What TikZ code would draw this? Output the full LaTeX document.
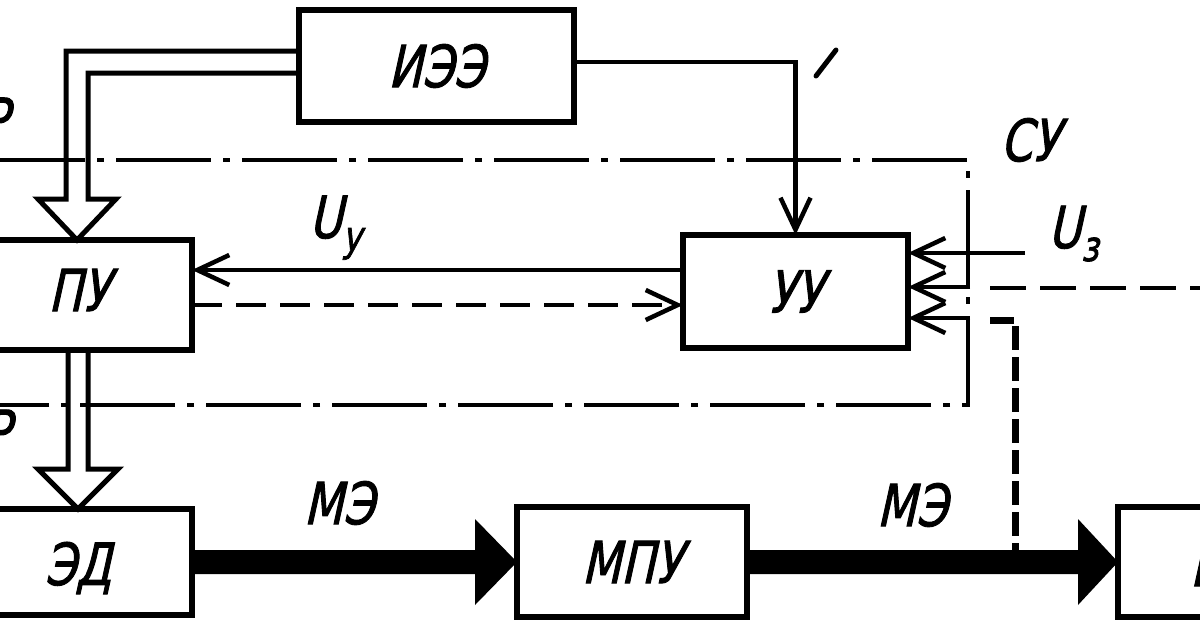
\documentclass[tikz,border=0pt]{standalone}
\usepackage{fontspec}
\newfontfamily\lab{DejaVu Sans}[FakeSlant=0.22,FakeStretch=0.78,FakeBold=1.6]
\usetikzlibrary{arrows.meta,calc}
\tikzset{
  box/.style={draw, line width=5.5pt, inner sep=0pt, outer sep=0pt, font=\lab\fontsize{58}{58}\selectfont},
  lbl/.style={inner sep=0pt, outer sep=0pt, font=\lab\fontsize{58}{58}\selectfont},
  sig/.style={line width=4.5pt, -{Straight Barb[length=32pt,width=30pt]}},
  sigdash/.style={sig, dash pattern=on 30pt off 14pt},
  hollow/.style={line width=5pt, line join=miter},
  power/.style={fill=black},
  border/.style={line width=4.5pt, dash pattern=on 95pt off 12pt on 7pt off 12pt},
  fb/.style={line width=7pt, dash pattern=on 24pt off 7pt},
  longdash/.style={line width=4.5pt, dash pattern=on 36pt off 14pt},
}
\newcommand{\subs}[1]{{\fontsize{42}{42}\selectfont\raisebox{-13pt}{#1}}}
\begin{document}
\begin{tikzpicture}[x=1pt,y=-1pt]
\useasboundingbox (0,0) rectangle (1200,630);
\fill[white] (0,0) rectangle (1200,630);
\clip (0,0) rectangle (1200,630);

% boxes
\node[box, minimum width=275pt, minimum height=112pt] (iee) at (436.5,66) {ИЭЭ};
\node[box, minimum width=252pt, minimum height=110pt] (pu) at (66,295) {};
\node[box, minimum width=225pt, minimum height=113pt] (uu) at (795.5,291.5) {УУ};
\node[box, minimum width=252pt, minimum height=106pt] (ed) at (66,562) {};
\node[box, minimum width=230pt, minimum height=110pt] (mpu) at (632,562) {МПУ};
\node[box, minimum width=152pt, minimum height=110pt] (rb) at (1194,562) {};

% labels
\node[lbl] (lpu) at (79,290) {ПУ};
\node[lbl] (led) at (78,568) {ЭД};
\node[lbl] (lrb) at (1207,565) {И};
\node[lbl] (lsu) at (1030,140) {СУ};
\node[lbl, anchor=base west] (luy) at (309,238) {U\subs{у}};
\node[lbl, anchor=base west] (luz) at (1048,248) {U\subs{з}};
\node[lbl] (lme1) at (339,503) {МЭ};
\node[lbl] (lme2) at (912,505) {МЭ};
\node[lbl, anchor=base east] (fr1) at (8,140) {Р};
\node[lbl, anchor=base east] (fr2) at (10,452) {Р};

% system boundary (dash-dot)
\coordinate (bTL) at (-10,160);
\coordinate (bTR) at (968,160);
\coordinate (bBR) at (968,405);
\coordinate (bBL) at (-10,405);
\draw[border] (bTL) -- (bTR) -- (bBR) -- (bBL);

% hollow arrow IEE -> PU
\coordinate (t1) at ([xshift=11pt]pu.north);
\draw[hollow] ([yshift=15pt]iee.west) -| ($(t1)+(-11,-41)$) -- ($(t1)+(-39,-41)$) -- (t1)
  -- ($(t1)+(39,-41)$) -- ($(t1)+(11,-41)$) |- ([yshift=-7pt]iee.west);

% hollow arrow PU -> ED
\coordinate (t2) at ([xshift=12pt]ed.north);
\coordinate (s2l) at ($(t2)+(-10,-40)$);
\coordinate (s2r) at ($(t2)+(10,-40)$);
\draw[hollow] (s2l |- pu.south) -- (s2l) -- ($(t2)+(-40,-40)$) -- (t2)
  -- ($(t2)+(40,-40)$) -- (s2r) -- (s2r |- pu.south);

% IEE -> UU
\draw[sig] ([yshift=4pt]iee.east) -| (uu.north);
\draw[line width=5pt, line cap=round] (816,76) -- (836,50);

% UU <-> PU
\coordinate (yU) at (0,270);
\coordinate (yD) at (0,305);
\draw[sig] (uu.west |- yU) -- (pu.east |- yU);
\draw[sigdash] (pu.east |- yD) -- (uu.west |- yD);

% inputs to UU
\coordinate (uz) at (1025,253);
\coordinate (in2) at (970,287);
\coordinate (in3) at (970,318);
\draw[sig] (uz) -- (uz -| uu.east);
\draw[sig] (in2) -- (in2 -| uu.east);
\draw[sig] (in3) -- (in3 -| uu.east);
\coordinate (dL) at (990,288);
\coordinate (dR) at (1215,288);
\draw[longdash] (dL) -- (dR);

% power arrows
\fill[power] ($(ed.east)+(0,-12)$) -- ($(mpu.west)+(-42,-12)$) -- ($(mpu.west)+(-42,-43)$) -- (mpu.west)
  -- ($(mpu.west)+(-42,43)$) -- ($(mpu.west)+(-42,12)$) -- ($(ed.east)+(0,12)$) -- cycle;
\fill[power] ($(mpu.east)+(0,-12)$) -- ($(rb.west)+(-40,-12)$) -- ($(rb.west)+(-40,-43)$) -- (rb.west)
  -- ($(rb.west)+(-40,43)$) -- ($(rb.west)+(-40,12)$) -- ($(mpu.east)+(0,12)$) -- cycle;

% feedback from ME line
\coordinate (fbt) at (990,320);
\coordinate (fbb) at (1015,550);
\draw[fb] (fbt) -| (fbb);
\end{tikzpicture}
\end{document}
